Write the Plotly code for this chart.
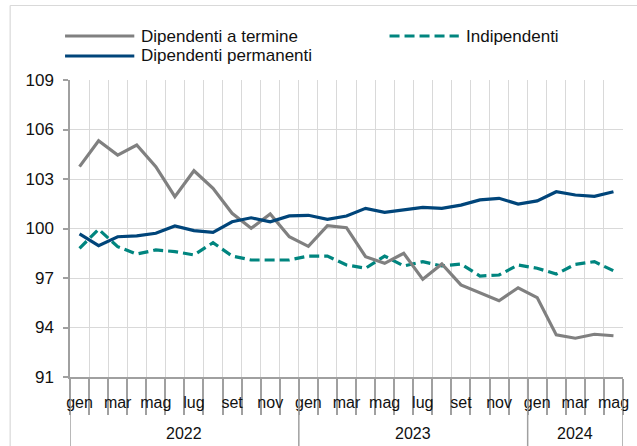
import plotly.graph_objects as go

# ---------------- data ----------------
months = ["gen", "feb", "mar", "apr", "mag", "giu", "lug", "ago", "set", "ott", "nov", "dic"]
years = ["2022", "2023", "2024"]
month_labels = months * 2 + months[:5]
year_of_point = ["2022"] * 12 + ["2023"] * 12 + ["2024"] * 5

dip_termine = [103.75, 105.32, 104.45, 105.06, 103.75, 101.93, 103.50, 102.43, 100.92, 100.01,
               100.88, 99.50, 98.92, 100.17, 100.05, 98.29, 97.89, 98.50, 96.92, 97.85,
               96.58, 96.11, 95.62, 96.41, 95.81, 93.55, 93.35, 93.59, 93.50]
indipendenti = [98.80, 99.95, 98.90, 98.45, 98.70, 98.60, 98.40, 99.14, 98.33, 98.09,
                98.09, 98.09, 98.33, 98.33, 97.79, 97.59, 98.33, 97.73, 97.99, 97.73,
                97.85, 97.12, 97.18, 97.79, 97.59, 97.24, 97.83, 97.99, 97.44]
dip_permanenti = [99.67, 98.96, 99.50, 99.55, 99.71, 100.15, 99.87, 99.77, 100.41, 100.65,
                  100.41, 100.76, 100.80, 100.56, 100.76, 101.22, 100.98, 101.12, 101.28, 101.22,
                  101.42, 101.73, 101.83, 101.48, 101.67, 102.23, 102.03, 101.95, 102.23]

series_names = ["Dipendenti a termine", "Indipendenti", "Dipendenti permanenti"]
y_ticks = [91, 94, 97, 100, 103, 106, 109]
top_text = "(dati destagionalizzati, numeri indice: gennaio 2022=100)"

# ---------------- layout helpers ----------------
W, H = 637, 446
L, R, T, B = 70, 629, 80, 377   # plot area in pixels


def px_x(p):
    return (p - L) / (R - L)


def px_y(p):
    return (B - p) / (B - T)


GRAY = "#808080"
TEAL = "#00857f"
NAVY = "#00457a"
GRID = "#d9d9d9"
AXIS = "#a0a0a0"
FONT = "Liberation Sans, Arial, sans-serif"

n = len(dip_termine)
x = list(range(n))

fig = go.Figure()
styles = [
    dict(color=GRAY, width=3.2, dash="solid"),
    dict(color=TEAL, width=3.2, dash="10px,5px"),
    dict(color=NAVY, width=3.2, dash="solid"),
]
order = [1, 0, 2]  # draw teal first, then gray, navy on top
all_vals = [dip_termine, indipendenti, dip_permanenti]
for k in order:
    fig.add_trace(go.Scatter(x=x, y=all_vals[k], mode="lines", name=series_names[k],
                             line=styles[k], showlegend=False, hoverinfo="y+name"))

boundaries = [i - 0.5 for i in range(n + 1)]
year_bounds = [-0.5]
for i in range(1, n):
    if year_of_point[i] != year_of_point[i - 1]:
        year_bounds.append(i - 0.5)
year_bounds.append(n - 0.5)

fig.update_xaxes(
    range=[-0.5, n - 0.5],
    tickmode="array",
    tickvals=[i for i in x if i % 2 == 0],
    ticktext=[month_labels[i] for i in x if i % 2 == 0],
    ticks="", showgrid=False,
    showline=True, linecolor=AXIS, linewidth=1.5,
    tickfont=dict(family=FONT, size=16, color="#111"),
    ticklabelstandoff=10,
    minor=dict(tickmode="array", tickvals=boundaries, ticks="outside", ticklen=36,
               tickcolor=AXIS, tickwidth=1.5, showgrid=True, gridcolor=GRID, gridwidth=1),
    zeroline=False,
)
fig.update_yaxes(
    range=[91, 109], tickmode="array", tickvals=y_ticks,
    ticks="outside", ticklen=5, tickcolor=AXIS, tickwidth=1.5,
    showline=True, linecolor=AXIS, linewidth=1.5,
    showgrid=True, gridcolor=GRID, gridwidth=1.2,
    tickfont=dict(family=FONT, size=17, color="#111"),
    ticklabelstandoff=6, zeroline=False,
)

shapes = []
# year dividers
for b in year_bounds:
    shapes.append(dict(type="line", xref="x", yref="paper", x0=b, x1=b,
                       y0=0, y1=px_y(H + 5), line=dict(color=AXIS, width=1.5)))
# chart area border (top & left)
shapes.append(dict(type="line", xref="paper", yref="paper", x0=px_x(9.5), x1=px_x(W + 10),
                   y0=px_y(5.5), y1=px_y(5.5), line=dict(color=GRID, width=1.2)))
shapes.append(dict(type="line", xref="paper", yref="paper", x0=px_x(9.5), x1=px_x(9.5),
                   y0=px_y(5.5), y1=px_y(H + 10), line=dict(color=GRID, width=1.2)))

annotations = []
# year labels
for k, yr in enumerate(years):
    a, b = year_bounds[k], year_bounds[k + 1]
    annotations.append(dict(x=(a + b) / 2, xref="x", y=px_y(434), yref="paper",
                            text=yr, showarrow=False, xanchor="center", yanchor="middle",
                            font=dict(family=FONT, size=16, color="#111")))

# manual legend
legend_items = [
    (series_names[0], styles[0], 65, 36),
    (series_names[1], styles[1], 393, 36),
    (series_names[2], styles[2], 65, 56),
]
for name, st, lx, ly in legend_items:
    shapes.append(dict(type="line", xref="paper", yref="paper",
                       x0=px_x(lx), x1=px_x(lx + 70), y0=px_y(ly), y1=px_y(ly),
                       line=dict(color=st["color"], width=st["width"], dash=st["dash"])))
    annotations.append(dict(x=px_x(lx + 75), y=px_y(ly), xref="paper", yref="paper",
                            text=name, showarrow=False, xanchor="left", yanchor="middle",
                            font=dict(family=FONT, size=17, color="#111")))

# partially visible heading at the very top (cut off, as in the reference)
annotations.append(dict(x=px_x(10), y=px_y(-10), xref="paper", yref="paper",
                        text=top_text, showarrow=False, xanchor="left", yanchor="middle",
                        font=dict(family=FONT, size=17, color="#555")))

fig.update_layout(
    width=W, height=H,
    margin=dict(l=L, r=W - R, t=T, b=H - B, pad=0),
    paper_bgcolor="white", plot_bgcolor="white",
    shapes=shapes, annotations=annotations,
    showlegend=False,
    font=dict(family=FONT),
)

fig.write_html("out.html", config={"displayModeBar": False},
               post_script="document.body.style.margin='0px';")
